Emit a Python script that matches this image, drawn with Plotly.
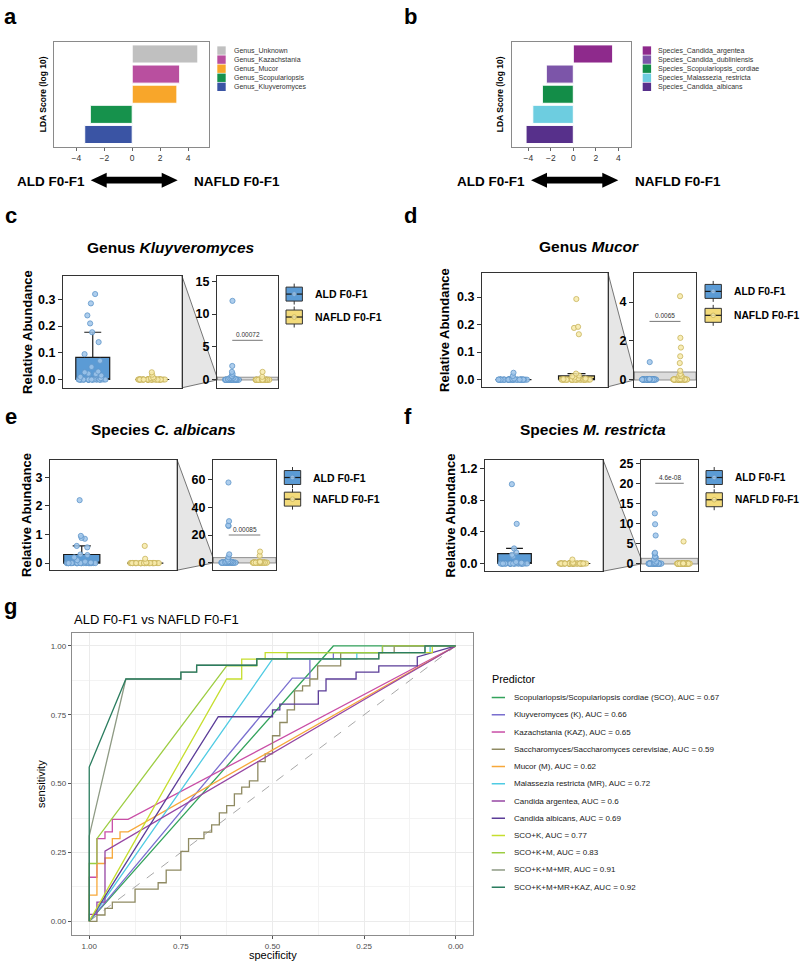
import plotly.graph_objects as go

W, H = 800, 961
FONT = "Liberation Sans, Arial, Helvetica, sans-serif"

# ---------------- data ----------------
genus_names = ["Genus_Unknown", "Genus_Kazachstania", "Genus_Mucor", "Genus_Scopulariopsis", "Genus_Kluyveromyces"]
genus_lda = [4.7, 3.4, 3.2, -3.0, -3.4]
genus_colors = ["#c0c0c0", "#b94f9f", "#f8a62a", "#16924c", "#3a54a4"]

species_names = ["Species_Candida_argentea", "Species_Candida_dubliniensis", "Species_Scopulariopsis_cordiae",
                 "Species_Malassezia_restricta", "Species_Candida_albicans"]
species_lda = [3.5, -2.4, -2.75, -3.6, -4.2]
species_colors = ["#8e2a8c", "#7c55a9", "#138d48", "#6dcde0", "#57308b"]

groups = ["ALD F0-F1", "NAFLD F0-F1"]
group_box_colors = ["#5b9bd5", "#f3db7b"]
group_point_fill = ["rgba(160,198,234,0.85)", "rgba(247,234,170,0.85)"]
group_point_line = ["#5f95c9", "#c8b45c"]

kluyveromyces_ald = [12.0, 2.1, 1.2, 0.9, 0.6, 0.5, 0.32, 0.285, 0.24, 0.21, 0.177, 0.14, 0.095, 0.07, 0.047,
                     0.03, 0.027, 0.022, 0.02, 0.015, 0.01, 0.005] + [0.0] * 30
kluyveromyces_nafld = [1.2, 0.45, 0.027, 0.018, 0.008, 0.005, 0.003] + [0.0] * 38

mucor_ald = [0.9, 0.025, 0.013, 0.004, 0.002] + [0.0] * 47
mucor_nafld = [4.3, 2.15, 1.65, 1.2, 0.85, 0.45, 0.293, 0.192, 0.188, 0.165, 0.022, 0.015, 0.012, 0.008,
               0.005, 0.004, 0.002] + [0.0] * 31

albicans_ald = [58.0, 30.0, 27.0, 26.5, 6.0, 4.0, 2.2, 0.95, 0.88, 0.85, 0.6, 0.55, 0.3, 0.28, 0.2, 0.1,
                0.05, 0.02] + [0.0] * 32
albicans_nafld = [8.0, 5.0, 0.6, 0.15, 0.02] + [0.0] * 40

restricta_ald = [12.5, 9.8, 7.0, 2.7, 2.5, 1.8, 1.7, 1.5, 1.0, 0.5, 0.19, 0.14, 0.11, 0.09, 0.02, 0.01] + [0.0] * 32
restricta_nafld = [5.5, 0.05, 0.01] + [0.0] * 42

p_values = ["0.00072", "0.0065", "0.00085", "4.6e-08"]

roc_names = [
    "Scopulariopsis/Scopulariopsis cordiae (SCO), AUC = 0.67",
    "Kluyveromyces (K), AUC = 0.66",
    "Kazachstania (KAZ), AUC = 0.65",
    "Saccharomyces/Saccharomyces cerevisiae, AUC = 0.59",
    "Mucor (M), AUC = 0.62",
    "Malassezia restricta (MR), AUC = 0.72",
    "Candida argentea, AUC = 0.6",
    "Candida albicans, AUC = 0.69",
    "SCO+K, AUC = 0.77",
    "SCO+K+M, AUC = 0.83",
    "SCO+K+M+MR, AUC = 0.91",
    "SCO+K+M+MR+KAZ, AUC = 0.92",
]
roc_colors = ["#33a35c", "#7a6fcf", "#c94ea6", "#8f8a62", "#f7a83a", "#4fcbe3",
              "#9646a3", "#5b3c98", "#c6de2e", "#9dcd42", "#8e9a84", "#2b7d5f"]

spec_sco = [1.0, 0.334, 0.0]
sens_sco = [0.0, 1.0, 1.0]
spec_k = [1.0, 0.446, 0.398, 0.398, 0.334, 0.334, 0.2, 0.2, 0.0]
sens_k = [0.0, 0.883, 0.883, 0.952, 0.952, 0.976, 0.976, 1.0, 1.0]
spec_kaz = [1.0, 1.0, 0.979, 0.979, 0.957, 0.957, 0.937, 0.937, 0.894, 0.0]
sens_kaz = [0.0, 0.16, 0.16, 0.30, 0.30, 0.325, 0.325, 0.37, 0.37, 1.0]
spec_sac = [1.0, 0.979, 0.979, 0.957, 0.957, 0.937, 0.937, 0.875, 0.875, 0.812, 0.812, 0.79, 0.79, 0.75, 0.75,
            0.729, 0.729, 0.687, 0.687, 0.666, 0.666, 0.645, 0.645, 0.625, 0.625, 0.604, 0.604, 0.584, 0.584,
            0.563, 0.563, 0.54, 0.54, 0.52, 0.52, 0.5, 0.5, 0.48, 0.48, 0.46, 0.46, 0.44, 0.44, 0.418, 0.418,
            0.398, 0.398, 0.377, 0.377, 0.314, 0.314, 0.168, 0.168, 0.0]
sens_sac = [0.0, 0.0, 0.023, 0.023, 0.047, 0.047, 0.07, 0.07, 0.117, 0.117, 0.14, 0.14, 0.186, 0.186, 0.254,
            0.254, 0.30, 0.30, 0.324, 0.324, 0.35, 0.35, 0.394, 0.394, 0.42, 0.42, 0.463, 0.463, 0.487,
            0.487, 0.51, 0.51, 0.58, 0.58, 0.608, 0.608, 0.674, 0.674, 0.722, 0.722, 0.768, 0.768, 0.837,
            0.837, 0.855, 0.855, 0.88, 0.88, 0.928, 0.928, 0.976, 0.976, 1.0, 1.0]
spec_m = [1.0, 1.0, 0.979, 0.979, 0.957, 0.957, 0.937, 0.937, 0.916, 0.916, 0.894, 0.0]
sens_m = [0.0, 0.095, 0.095, 0.21, 0.21, 0.23, 0.23, 0.30, 0.30, 0.325, 0.325, 1.0]
spec_mr = [1.0, 0.5, 0.27, 0.27, 0.07, 0.07, 0.0]
sens_mr = [0.0, 0.952, 0.952, 0.976, 0.976, 1.0, 1.0]
spec_arg = [1.0, 1.0, 0.979, 0.979, 0.957, 0.957, 0.0]
sens_arg = [0.0, 0.025, 0.025, 0.07, 0.07, 0.255, 1.0]
spec_alb = [1.0, 0.648, 0.5, 0.5, 0.48, 0.48, 0.375, 0.375, 0.354, 0.354, 0.272, 0.272, 0.21, 0.21,
            0.105, 0.105, 0.0]
sens_alb = [0.0, 0.743, 0.743, 0.768, 0.768, 0.789, 0.789, 0.837, 0.837, 0.88, 0.88, 0.905, 0.905,
            0.928, 0.928, 0.96, 1.0]
spec_sco_k = [1.0, 0.625, 0.584, 0.584, 0.52, 0.52, 0.064, 0.064, 0.0]
sens_sco_k = [0.0, 0.88, 0.88, 0.952, 0.952, 0.976, 0.976, 1.0, 1.0]
spec_sco_k_m = [1.0, 1.0, 0.979, 0.979, 0.625, 0.543, 0.543, 0.46, 0.46, 0.2, 0.2, 0.0]
sens_sco_k_m = [0.0, 0.21, 0.21, 0.30, 0.928, 0.928, 0.952, 0.952, 0.976, 0.976, 1.0, 1.0]
spec_sco_k_m_mr = [1.0, 1.0, 0.9, 0.75, 0.75, 0.707, 0.707, 0.543, 0.543, 0.21, 0.21, 0.084, 0.084, 0.0]
sens_sco_k_m_mr = [0.0, 0.31, 0.88, 0.88, 0.905, 0.905, 0.93, 0.93, 0.953, 0.953, 0.976, 0.976, 1.0, 1.0]
spec_sco_k_m_mr_kaz = [1.0, 1.0, 0.9, 0.75, 0.75, 0.707, 0.707, 0.543, 0.543, 0.21, 0.21, 0.084, 0.084, 0.0]
sens_sco_k_m_mr_kaz = [0.0, 0.56, 0.88, 0.88, 0.905, 0.905, 0.93, 0.93, 0.953, 0.953, 0.976, 0.976, 1.0, 1.0]

roc_spec = [spec_sco, spec_k, spec_kaz, spec_sac, spec_m, spec_mr, spec_arg, spec_alb,
            spec_sco_k, spec_sco_k_m, spec_sco_k_m_mr, spec_sco_k_m_mr_kaz]
roc_sens = [sens_sco, sens_k, sens_kaz, sens_sac, sens_m, sens_mr, sens_arg, sens_alb,
            sens_sco_k, sens_sco_k_m, sens_sco_k_m_mr, sens_sco_k_m_mr_kaz]


# ---------------- helpers ----------------
def px(x):
    return x / W


def py(y):
    return 1 - y / H


def xdom(a, b):
    return [a / W, b / W]


def ydom(top, bottom):
    return [1 - bottom / H, 1 - top / H]


fig = go.Figure()
layout = dict(width=W, height=H, margin=dict(l=0, r=0, t=0, b=0),
              paper_bgcolor="white", plot_bgcolor="white", showlegend=False,
              font=dict(family=FONT, color="black"), boxmode="overlay")
annotations = []
shapes = []


def text(x, y_base, s, size, bold=False, color="black", xanchor="left", angle=0):
    if bold:
        s = "<b>" + s + "</b>"
    annotations.append(dict(x=px(x), y=py(y_base - 0.35 * size), xref="paper", yref="paper", text=s,
                            showarrow=False, xanchor=xanchor, yanchor="middle", textangle=angle,
                            font=dict(size=size, color=color, family=FONT)))


# ---------------- panel letters ----------------
for lab, x, yb in [("a", 2, 21), ("b", 402, 21), ("c", 3, 221), ("d", 402, 221), ("e", 3, 422),
                   ("f", 402, 422), ("g", 2, 613)]:
    text(x, yb, lab, 22, bold=True)


# ---------------- panels a, b ----------------
def lda_panel(ax, names, vals, colors, xpx, xrange, leg_sq_x, leg_txt_x, arrow_px, ald_x, nafld_x, title_x):
    xa, ya = "x" + ax, "y" + ax
    fig.add_trace(go.Bar(x=vals, y=names, orientation="h", xaxis=xa, yaxis=ya, width=0.9,
                         marker=dict(color=colors, line=dict(color="white", width=1))))
    key = ax
    layout["xaxis" + key] = dict(domain=xdom(*xpx), anchor=ya, range=xrange, tickvals=[-4, -2, 0, 2, 4],
                                 ticks="outside", ticklen=3, tickcolor="#666", showline=True, mirror=True,
                                 linecolor="#8a8a8a", linewidth=1.2, showgrid=False, zeroline=False,
                                 tickfont=dict(size=8.5, color="#333"))
    layout["yaxis" + key] = dict(domain=ydom(39, 144), anchor=xa, type="category",
                                 categoryorder="array", categoryarray=names, range=[4.6, -0.6],
                                 showticklabels=False, ticks="", showline=True, mirror=True,
                                 linecolor="#8a8a8a", linewidth=1.2, showgrid=False, zeroline=False)
    annotations.append(dict(x=px(title_x), y=py(91.5), xref="paper", yref="paper",
                            text="<b>LDA Score (log 10)</b>", showarrow=False, textangle=-90,
                            xanchor="center", yanchor="middle", font=dict(size=8.5, family=FONT)))
    for i, (n, c) in enumerate(zip(names, colors)):
        yc = 47.7 + 9.1 * i
        shapes.append(dict(type="rect", xref="paper", yref="paper", x0=px(leg_sq_x), x1=px(leg_sq_x + 8.4),
                           y0=py(yc + 4.2), y1=py(yc - 4.2), fillcolor=c, line=dict(width=0)))
        annotations.append(dict(x=px(leg_txt_x), y=py(yc), xref="paper", yref="paper", text=n,
                                showarrow=False, xanchor="left", yanchor="middle",
                                font=dict(size=7, color="#333", family=FONT)))
    L, R = arrow_px
    yc, hl, hh, st = 177.7, 16, 7.5, 3.3
    pts = [(L, yc), (L + hl, yc - hh), (L + hl, yc - st), (R - hl, yc - st), (R - hl, yc - hh), (R, yc),
           (R - hl, yc + hh), (R - hl, yc + st), (L + hl, yc + st), (L + hl, yc + hh)]
    path = "M " + " L ".join(f"{px(a):.5f},{py(b):.5f}" for a, b in pts) + " Z"
    shapes.append(dict(type="path", xref="paper", yref="paper", path=path, fillcolor="black",
                       line=dict(width=0)))
    text(ald_x, 183.3, "ALD F0-F1", 13.5, bold=True)
    text(nafld_x, 183.3, "NAFLD F0-F1", 13.5, bold=True)


lda_panel("", genus_names, genus_lda, genus_colors, (54, 209), [-5.6, 5.5], 217.3, 231.7,
          (90.7, 177.7), 15, 192, 43)
lda_panel("2", species_names, species_lda, species_colors, (512, 631), [-5.45, 5.13], 642.7, 656,
          (531, 618.3), 455, 633, 500)


# ---------------- panels c-f ----------------
zoom_panels = [
    dict(title="Genus <i>Kluyveromyces</i>", ald=kluyveromyces_ald, nafld=kluyveromyces_nafld,
         lr=[-0.031, 0.387], lt=[0, 0.1, 0.2, 0.3], lf=".1f", rr=[-1.22, 15.76], rt=[0, 5, 10, 15],
         p=p_values[0], py=6.0, lpx=(63, 182), rpx=(217, 278), ypx=(274, 386), tx=170.5, tyb=250.7,
         lgx=286, lgy=(292, 315), ytitle_x=28, lgfs=10.5),
    dict(title="Genus <i>Mucor</i>", ald=mucor_ald, nafld=mucor_nafld,
         lr=[-0.026, 0.387], lt=[0, 0.1, 0.2, 0.3], lf=".1f", rr=[-0.376, 5.49], rt=[0, 2, 4],
         p=p_values[1], py=3.0, lpx=(482, 608), rpx=(634, 696), ypx=(271, 385), tx=589.3, tyb=250,
         lgx=705, lgy=(289.3, 313.3), ytitle_x=445, lgfs=10.3),
    dict(title="Species <i>C. albicans</i>", ald=albicans_ald, nafld=albicans_nafld,
         lr=[-0.25, 3.62], lt=[0, 1, 2, 3], lf="d", rr=[-5.5, 74.6], rt=[0, 20, 40, 60],
         p=p_values[2], py=20.0, lpx=(50, 177), rpx=(213, 276), ypx=(458, 569), tx=163.5, tyb=433.3,
         lgx=284.3, lgy=(476, 497.7), ytitle_x=27, lgfs=10.5),
    dict(title="Species <i>M. restricta</i>", ald=restricta_ald, nafld=restricta_nafld,
         lr=[-0.097, 1.31], lt=[0, 0.4, 0.8, 1.2], lf=".1f", rr=[-1.9, 25.9], rt=[0, 5, 10, 15, 20, 25],
         p=p_values[3], py=20.0, lpx=(485, 603), rpx=(641, 698), ypx=(458, 570), tx=592.5, tyb=433.3,
         lgx=706, lgy=(476, 498.3), ytitle_x=450, lgfs=10.1),
]

tickfont_bold = dict(size=12.5, color="black", family=FONT, weight="bold")
ax_n = 3
for pnl in zoom_panels:
    for side in ("l", "r"):
        n = str(ax_n)
        xa, ya = "x" + n, "y" + n
        for gi, (g, vals) in enumerate(zip(groups, [pnl["ald"], pnl["nafld"]])):
            fig.add_trace(go.Box(x=[g] * len(vals), y=vals, xaxis=xa, yaxis=ya, name=g,
                                 boxpoints="all", jitter=0.85, pointpos=0, width=0.57,
                                 fillcolor=group_box_colors[gi], line=dict(color="#1a1a1a", width=1.2),
                                 marker=dict(color=group_point_fill[gi], size=5.2,
                                             line=dict(color=group_point_line[gi], width=0.8)),
                                 quartilemethod="linear", hoverinfo="skip"))
        xpx = pnl["lpx"] if side == "l" else pnl["rpx"]
        rng = pnl["lr"] if side == "l" else pnl["rr"]
        tv = pnl["lt"] if side == "l" else pnl["rt"]
        layout["xaxis" + n] = dict(domain=xdom(*xpx), anchor=ya, type="category", categoryorder="array",
                                   categoryarray=groups, range=[-0.5, 1.5], showticklabels=False,
                                   ticks="", showline=True, mirror=True, linecolor="#333", linewidth=1.2,
                                   showgrid=False, zeroline=False)
        layout["yaxis" + n] = dict(domain=ydom(*pnl["ypx"]), anchor=xa, range=rng, tickvals=tv,
                                   tickformat=pnl["lf"] if side == "l" else "d",
                                   ticks="outside", ticklen=4, tickwidth=1.2, tickcolor="#333",
                                   showline=True, mirror=True, linecolor="#333", linewidth=1.2,
                                   showgrid=False, zeroline=False, tickfont=tickfont_bold)
        if side == "r":
            shapes.append(dict(type="rect", xref=xa + " domain", yref=ya, x0=0, x1=1,
                               y0=pnl["lr"][0], y1=pnl["lr"][1], fillcolor="#dcdcdc",
                               line=dict(color="#777", width=0.8), layer="below"))
            shapes.append(dict(type="line", xref=xa, yref=ya, x0=0, x1=1, y0=pnl["py"], y1=pnl["py"],
                               line=dict(color="#555", width=0.8)))
            annotations.append(dict(x=0.5, y=pnl["py"], xref=xa, yref=ya, text=pnl["p"], showarrow=False,
                                    yanchor="bottom", xanchor="center",
                                    font=dict(size=6.5, color="#333", family=FONT)))
            top, bot = pnl["ypx"]
            r0, r1 = pnl["rr"]

            def rpy(v):
                return bot - (v - r0) / (r1 - r0) * (bot - top)

            xl, xr = pnl["lpx"][1], pnl["rpx"][0]
            pts = [(xl, top), (xr, rpy(pnl["lr"][1])), (xr, rpy(pnl["lr"][0])), (xl, bot)]
            path = "M " + " L ".join(f"{px(a):.5f},{py(b):.5f}" for a, b in pts) + " Z"
            shapes.append(dict(type="path", xref="paper", yref="paper", path=path, fillcolor="#e6e6e6",
                               line=dict(color="#555", width=0.8), layer="below"))
        ax_n += 1
    text(pnl["tx"], pnl["tyb"], "<b>" + pnl["title"] + "</b>", 15.5, xanchor="center")
    ymid = (pnl["ypx"][0] + pnl["ypx"][1]) / 2
    annotations.append(dict(x=px(pnl["ytitle_x"]), y=py(ymid), xref="paper", yref="paper",
                            text="<b>Relative Abundance</b>", showarrow=False, textangle=-90,
                            xanchor="center", yanchor="middle", font=dict(size=13, family=FONT)))
    for gi, g in enumerate(groups):
        yc = pnl["lgy"][gi]
        x0 = pnl["lgx"]
        shapes.append(dict(type="line", xref="paper", yref="paper", x0=px(x0 + 8.2), x1=px(x0 + 8.2),
                           y0=py(yc - 10.5), y1=py(yc + 10.5), line=dict(color="#333", width=1)))
        shapes.append(dict(type="rect", xref="paper", yref="paper", x0=px(x0), x1=px(x0 + 16.4),
                           y0=py(yc + 7), y1=py(yc - 7), fillcolor=group_box_colors[gi],
                           line=dict(color="#333", width=1)))
        shapes.append(dict(type="line", xref="paper", yref="paper", x0=px(x0), x1=px(x0 + 16.4),
                           y0=py(yc), y1=py(yc), line=dict(color="#1a1a1a", width=1.2)))
        shapes.append(dict(type="circle", xref="paper", yref="paper", x0=px(x0 + 5.9), x1=px(x0 + 10.5),
                           y0=py(yc + 2.3), y1=py(yc - 2.3), fillcolor=group_point_fill[gi],
                           line=dict(color=group_point_line[gi], width=0.8)))
        annotations.append(dict(x=px(x0 + 26.5), y=py(yc), xref="paper", yref="paper", text="<b>" + g + "</b>",
                                showarrow=False, xanchor="left", yanchor="middle",
                                font=dict(size=pnl["lgfs"], family=FONT, color="black")))

# ---------------- panel g ----------------
gx, gy = "x" + str(ax_n), "y" + str(ax_n)
fig.add_trace(go.Scatter(x=[1, 0], y=[0, 1], mode="lines", xaxis=gx, yaxis=gy,
                         line=dict(color="#a8a8a8", width=1, dash="dash"), hoverinfo="skip"))
for name, c, sx, sy in zip(roc_names, roc_colors, roc_spec, roc_sens):
    fig.add_trace(go.Scatter(x=sx, y=sy, mode="lines", name=name, xaxis=gx, yaxis=gy,
                             line=dict(color=c, width=1.3)))
gtick = dict(size=8, color="#4d4d4d", family=FONT)
layout["xaxis" + str(ax_n)] = dict(domain=xdom(72, 473), anchor=gy, range=[1.047, -0.047],
                                   tickvals=[1, 0.75, 0.5, 0.25, 0], ticktext=["1.00", "0.75", "0.50", "0.25", "0.00"],
                                   ticks="outside", ticklen=3, tickcolor="#555", showline=True, mirror=True,
                                   linecolor="#8c8c8c", linewidth=1.3, showgrid=True, gridcolor="#ebebeb",
                                   gridwidth=1, zeroline=False, tickfont=gtick,
                                   minor=dict(tickvals=[0.875, 0.625, 0.375, 0.125], showgrid=True,
                                              gridcolor="#f3f3f3", gridwidth=0.6, ticks=""))
layout["yaxis" + str(ax_n)] = dict(domain=ydom(632, 935), anchor=gx, range=[-0.05, 1.047],
                                   tickvals=[0, 0.25, 0.5, 0.75, 1], ticktext=["0.00", "0.25", "0.50", "0.75", "1.00"],
                                   ticks="outside", ticklen=3, tickcolor="#555", showline=True, mirror=True,
                                   linecolor="#8c8c8c", linewidth=1.3, showgrid=True, gridcolor="#ebebeb",
                                   gridwidth=1, zeroline=False, tickfont=gtick,
                                   minor=dict(tickvals=[0.125, 0.375, 0.625, 0.875], showgrid=True,
                                              gridcolor="#f3f3f3", gridwidth=0.6, ticks=""))
text(72, 623.3, "ALD F0-F1 vs NAFLD F0-F1", 13)
annotations.append(dict(x=px(272.5), y=py(955), xref="paper", yref="paper", text="specificity",
                        showarrow=False, xanchor="center", yanchor="middle", font=dict(size=11, family=FONT)))
annotations.append(dict(x=px(41), y=py(783.5), xref="paper", yref="paper", text="sensitivity",
                        showarrow=False, textangle=-90, xanchor="center", yanchor="middle",
                        font=dict(size=11, family=FONT)))
text(490, 681.7, "Predictor", 10.8)
for i, (name, c) in enumerate(zip(roc_names, roc_colors)):
    yc = 696.7 + 17.3 * i
    shapes.append(dict(type="line", xref="paper", yref="paper", x0=px(491.7), x1=px(505), y0=py(yc), y1=py(yc),
                       line=dict(color=c, width=1.5)))
    annotations.append(dict(x=px(512), y=py(yc), xref="paper", yref="paper", text=name, showarrow=False,
                            xanchor="left", yanchor="middle", font=dict(size=8, color="#1a1a1a", family=FONT)))

layout["annotations"] = annotations
layout["shapes"] = shapes
fig.update_layout(**layout)
fig.write_html("out.html", config={"displayModeBar": False},
               post_script="document.body.style.margin='0';document.body.style.padding='0';")
